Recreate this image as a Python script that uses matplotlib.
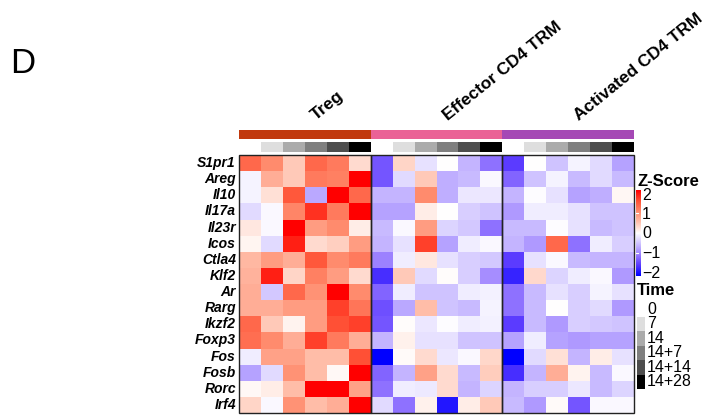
import numpy as np
import matplotlib
matplotlib.use("Agg")
import matplotlib.pyplot as plt
from matplotlib.colors import LinearSegmentedColormap, ListedColormap

plt.rcParams['font.family'] = ['Liberation Sans', 'DejaVu Sans']

genes = ['S1pr1', 'Areg', 'Il10', 'Il17a', 'Il23r', 'Icos', 'Ctla4', 'Klf2',
         'Ar', 'Rarg', 'Ikzf2', 'Foxp3', 'Fos', 'Fosb', 'Rorc', 'Irf4']
groups = ['Treg', 'Effector CD4 TRM', 'Activated CD4 TRM']
group_colors = ['#C1390E', '#EA6296', '#A548B5']
times = ['0', '7', '14', '14+7', '14+14', '14+28']
time_colors = ['#FFFFFF', '#DEDEDE', '#ABABAB', '#7F7F7F', '#4D4D4D', '#000000']

# z-scores, rows = genes, columns = time points
treg = [
    [1.3, 1.0, 0.45, 1.3, 1.15, 0.3],
    [-0.1, 0.7, 0.45, 1.15, 1.1, 2.0],
    [-0.1, 0.25, 1.45, -0.7, 2.0, 1.3],
    [-0.3, -0.05, 1.05, 1.7, 1.15, 2.0],
    [0.2, -0.05, 2.0, 0.85, 1.0, 0.15],
    [0.08, -0.3, 1.8, 0.3, 0.4, 0.85],
    [0.6, 0.85, 0.7, 1.45, 1.0, 1.15],
    [0.65, 1.8, 0.35, 1.1, 0.85, 0.3],
    [0.7, -0.45, 1.3, 0.95, 2.0, 1.0],
    [0.7, 0.7, 0.85, 0.85, 1.6, 1.2],
    [1.3, 0.45, 0.1, 0.85, 1.5, 1.6],
    [1.25, 1.0, 0.7, 1.6, 1.15, 0.7],
    [-0.15, 0.8, 0.8, 0.55, 0.55, 1.5],
    [-0.75, -0.3, 0.95, 0.55, 0.05, 2.0],
    [0.05, 0.15, 0.55, 2.0, 2.0, 0.8],
    [0.35, -0.05, 0.95, 0.55, 0.7, 2.0],
]
effector = [
    [-1.3, 0.35, -0.25, 0.0, -0.6, -1.1],
    [-1.3, -0.3, 0.45, -0.65, -0.55, -0.05],
    [-0.6, -0.6, 1.0, -0.65, -0.2, -0.2],
    [-0.75, -0.75, 0.15, 0.0, -0.4, -0.5],
    [-0.55, -0.05, 0.85, -0.35, -0.45, -1.1],
    [-0.6, -0.25, 1.6, -0.75, -0.15, -0.05],
    [-1.0, -0.15, 0.2, -0.25, -0.4, -0.45],
    [-1.6, 0.45, -0.3, 0.03, -0.4, -0.9],
    [-1.2, -0.15, -0.5, -0.5, -0.15, -0.12],
    [-1.35, -0.7, 0.55, -0.5, -0.55, -0.1],
    [-1.3, 0.03, -0.2, -0.03, -0.15, -0.12],
    [-0.6, 0.12, -0.25, -0.25, -0.5, -0.5],
    [-2.0, 0.04, 0.3, -0.2, -0.05, 0.33],
    [-1.2, -0.6, 0.8, 0.3, -0.55, 0.42],
    [-1.1, -0.15, -0.18, 0.3, -0.6, -0.35],
    [-0.3, -1.1, 0.12, -1.8, 0.15, 0.45],
]
activated = [
    [-1.5, 0.0, -0.5, -0.1, -0.3, -0.75],
    [-1.2, -0.5, -0.1, -0.55, -0.3, -0.55],
    [-0.6, -0.03, -0.25, -0.75, -0.65, 0.07],
    [-0.8, -0.15, -0.15, -0.25, -0.5, -0.5],
    [-0.55, -0.55, -0.03, -0.25, -0.55, -0.5],
    [-0.6, -0.8, 1.3, -1.1, -0.15, -0.4],
    [-1.5, -0.25, -0.05, -0.55, -0.6, -0.6],
    [-1.7, 0.32, -0.35, -0.15, -0.05, -0.8],
    [-1.1, -0.55, -0.25, -0.4, -0.1, -0.25],
    [-1.1, -0.55, 0.0, -0.4, -0.3, -0.8],
    [-1.5, -0.55, -0.8, -0.4, -0.45, -0.5],
    [-0.75, -0.15, -0.75, -0.8, -0.75, -0.75],
    [-2.0, -0.3, 0.25, -0.6, 0.15, -0.25],
    [-1.6, -0.6, 0.7, 0.1, -0.55, -0.05],
    [-0.6, -0.4, -0.4, -0.2, -0.55, -0.35],
    [-0.55, -0.8, 0.04, -1.3, -0.05, -0.05],
]

z = np.hstack([np.array(treg), np.array(effector), np.array(activated)])
n_rows, n_cols = z.shape
n_t = len(times)

cmap = LinearSegmentedColormap.from_list('zscore', [
    (0.0, '#0000FF'), (0.125, '#5B3BFF'), (0.25, '#9C80FF'), (0.375, '#CEC2FF'),
    (0.5, '#FFFFFF'), (0.625, '#FFC3B0'), (0.75, '#FF8C6E'), (0.875, '#FF5236'),
    (1.0, '#FF0000')])

W, H = 710, 416
fig = plt.figure(figsize=(W / 100, H / 100), dpi=100)


def px_box(x0, y0, x1, y1):
    return [x0 / W, 1 - y1 / H, (x1 - x0) / W, (y1 - y0) / H]


# main heatmap
ax = fig.add_axes(px_box(239, 155, 634, 413))
ax.pcolormesh(z, cmap=cmap, vmin=-2, vmax=2)
ax.set_xlim(0, n_cols)
ax.set_ylim(n_rows, 0)
ax.axis('off')
for k in range(len(groups)):
    ax.add_patch(plt.Rectangle((k * n_t, 0), n_t, n_rows, fill=False,
                               ec='#222222', lw=1.0, clip_on=False))
for i, g in enumerate(genes):
    ax.text(-0.14, i + 0.5, g, ha='right', va='center', fontsize=10,
            fontweight='bold', fontstyle='italic')

# group annotation
ax_g = fig.add_axes(px_box(239, 130, 634, 139))
ax_g.pcolormesh(np.repeat(np.arange(len(groups)), n_t)[None, :],
                cmap=ListedColormap(group_colors), vmin=-0.5, vmax=len(groups) - 0.5)
ax_g.axis('off')

# time annotation
ax_t = fig.add_axes(px_box(239, 142, 634, 152))
ax_t.pcolormesh(np.tile(np.arange(n_t), len(groups))[None, :],
                cmap=ListedColormap(time_colors), vmin=-0.5, vmax=n_t - 0.5)
ax_t.axis('off')

# column titles
for k, g in enumerate(groups):
    cx = 239 + (k + 0.5) * 395 / len(groups) + 11
    fig.text(cx / W, 1 - 121 / H, g, rotation=39, rotation_mode='anchor',
             ha='left', va='baseline', fontsize=12.5, fontweight='bold')

# panel letter
fig.text(10 / W, 1 - 73 / H, 'D', fontsize=25, ha='left', va='baseline')

# z-score legend
fig.text(637 / W, 1 - 186 / H, 'Z-Score', fontsize=12, fontweight='bold',
         ha='left', va='baseline')
ax_c = fig.add_axes(px_box(636, 190, 641, 276))
ax_c.imshow(np.linspace(2, -2, 200)[:, None], cmap=cmap, vmin=-2, vmax=2,
            aspect='auto', extent=[0, 1, -2.1, 2.1])
ax_c.set_ylim(-2.1, 2.1)
ax_c.axis('off')
for v in [1, 0, -1]:
    ax_c.plot([0, 0.35], [v, v], color='white', lw=0.8)
for v in [2, 1, 0, -1, -2]:
    y = 195 + (2 - v) / 4 * 78
    fig.text(642 / W, 1 - y / H, str(v).replace('-', '\u2212'), fontsize=11.5,
             ha='left', va='center')

# time legend
fig.text(637 / W, 1 - 295 / H, 'Time', fontsize=12, fontweight='bold',
         ha='left', va='baseline')
ax_l = fig.add_axes(px_box(637, 302, 645, 389))
ax_l.pcolormesh(np.arange(n_t)[:, None], cmap=ListedColormap(time_colors),
                vmin=-0.5, vmax=n_t - 0.5)
ax_l.set_ylim(n_t, 0)
ax_l.axis('off')
for i, t in enumerate(times):
    y = 302 + (i + 0.5) * 87 / n_t
    fig.text(647 / W, 1 - y / H, t, fontsize=11.5, ha='left', va='center')

fig.savefig('out.png', dpi=100)
